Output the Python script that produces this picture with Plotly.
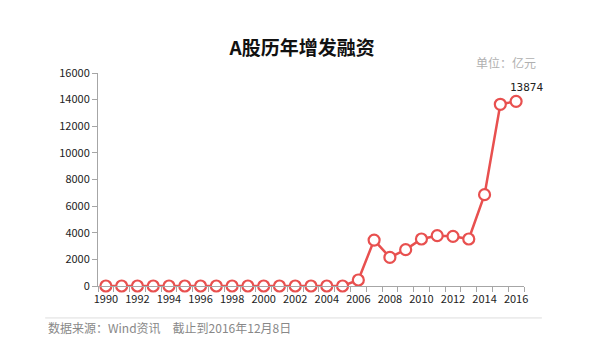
import plotly.graph_objects as go

years = list(range(1990, 2017))
values = [0, 0, 0, 0, 0, 0, 0, 0, 0, 0, 0, 0, 0, 0, 0, 0,
          450, 3450, 2150, 2730, 3530, 3780, 3730, 3530, 6860, 13650, 13874]
y_ticks = [0, 2000, 4000, 6000, 8000, 10000, 12000, 14000, 16000]
x_ticks = list(range(1990, 2017, 2))

red = "#E8504F"
font = "Noto Sans CJK SC"

fig = go.Figure()
fig.add_trace(go.Scatter(
    x=years, y=values, mode="lines+markers",
    line=dict(color=red, width=2.5),
    marker=dict(symbol="circle", size=11, color="white", line=dict(color=red, width=2.2)),
    cliponaxis=False, showlegend=False,
))

fig.update_layout(
    width=593, height=357,
    margin=dict(l=90, r=77, t=65, b=79, autoexpand=False),
    paper_bgcolor="white", plot_bgcolor="white",
    font=dict(family=font, color="#222222", size=11),
    title=dict(text="<b>A股历年增发融资</b>", x=0.496, xanchor="center", y=0.888, yanchor="middle",
               font=dict(size=19, color="#111111", family=font)),
    xaxis=dict(range=[1989.5, 2016.5], tickvals=x_ticks, ticktext=[str(v) for v in x_ticks],
               showgrid=False, zeroline=False, showline=True, linecolor="#A6A6A6", linewidth=1,
               ticks="", ticklabelstandoff=3, tickfont=dict(size=11, color="#222222", family=font),
               minor=dict(ticks="outside", tick0=1989.5, dtick=1, ticklen=5, tickcolor="#A6A6A6", showgrid=False)),
    yaxis=dict(range=[0, 16000], tickvals=y_ticks, ticktext=[str(v) for v in y_ticks],
               showgrid=False, zeroline=False,
               showline=True, linecolor="#A6A6A6", linewidth=1,
               ticks="outside", ticklen=5, tickcolor="#A6A6A6",
               tickfont=dict(size=11, color="#222222", family=font)),
)

fig.add_annotation(x=2016, y=13874, text="13874", showarrow=False, yshift=14, xshift=10,
                   font=dict(size=11, color="#222222", family="DejaVu Sans Mono"))
fig.add_annotation(xref="paper", yref="paper", x=1.033, y=1.048, text="单位：亿元", showarrow=False,
                   xanchor="right", yanchor="middle", font=dict(size=12, color="#B0B0B0", family=font))
fig.add_annotation(xref="paper", yref="paper", x=-0.121, y=-0.197, text="数据来源：Wind资讯　截止到2016年12月8日",
                   showarrow=False, xanchor="left", yanchor="middle",
                   font=dict(size=12, color="#888888", family=font))
fig.add_shape(type="line", xref="paper", yref="paper", x0=-0.124, x1=1.042, y0=-0.15, y1=-0.15,
              line=dict(color="#DDDDDD", width=1))

fig.write_html("out.html")
